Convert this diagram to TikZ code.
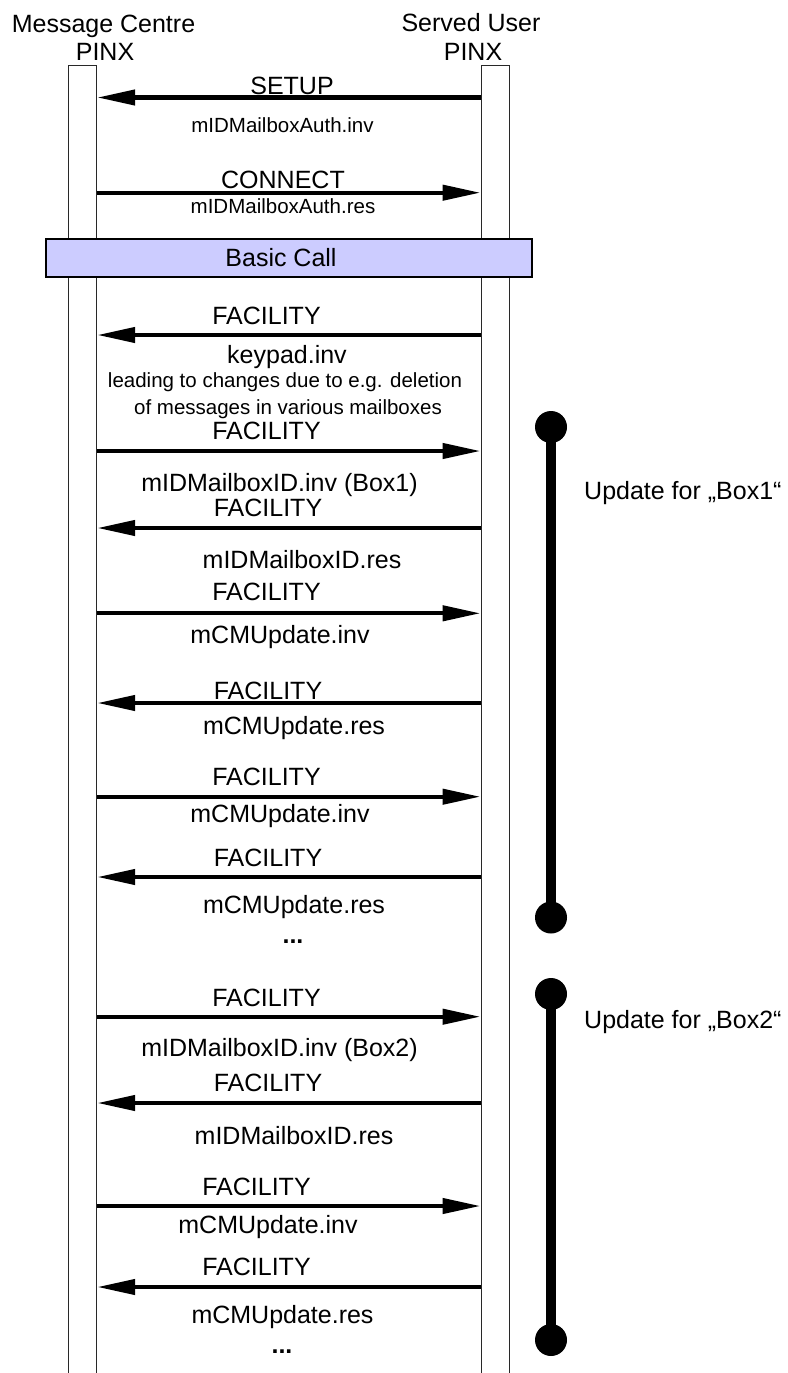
\documentclass[tikz,border=0pt]{standalone}
\usepackage{fontspec}
\setmainfont{Liberation Sans}
\usetikzlibrary{arrows.meta}
\definecolor{boxfill}{RGB}{204,204,255}
\definecolor{lineclr}{RGB}{40,40,40}
\begin{document}
\begin{tikzpicture}[x=1pt,y=-1pt,
  big/.style={font=\fontsize{25}{28}\selectfont, inner sep=0pt, anchor=base},
  small/.style={font=\fontsize{20.5}{24}\selectfont, inner sep=0pt, anchor=base},
  lifeline/.style={draw=lineclr, line width=1pt, rectangle, minimum width=28.4pt, minimum height=1335pt, inner sep=0pt, anchor=north},
  msg/.style={line width=4.3pt, -{Triangle[length=38pt,width=15pt]}},
  bar/.style={line width=9.3pt},
  dot/.style={circle, fill, inner sep=0pt, minimum size=32pt}]
\useasboundingbox (0,0) rectangle (787,1373);

% lifelines
\node[lifeline] (mc) at (82.5,65) {};
\node[lifeline] (su) at (495.25,65) {};

% headers
\node[big] (h1a) at (103.5,32) {Message Centre};
\node[big] (h1b) at (105,60) {PINX};
\node[big] (h2a) at (471,31) {Served User};
\node[big] (h2b) at (473,60) {PINX};

% basic call box
\node[draw, fill=boxfill, line width=1.1pt, minimum width=486pt, minimum height=38pt, inner sep=0pt] (bc) at (289,258) {};
\node[big] (bct) at (281,266.5) {Basic Call};

% leftward messages
\foreach \y [count=\i] in {97.5,335,528,703,877,1103,1287} {
  \coordinate (ls\i) at (su.west |- 0,\y);
  \coordinate (le\i) at (mc.east |- 0,\y);
  \draw[msg] (ls\i) -- (le\i);
}
% rightward messages
\foreach \y [count=\i] in {192.7,451,613.3,796.7,1016.7,1206} {
  \coordinate (rs\i) at (mc.east |- 0,\y);
  \coordinate (re\i) at (su.west |- 0,\y);
  \draw[msg] (rs\i) -- (re\i);
}

% labels
\node[big] (t1) at (292,94.5) {SETUP};
\node[small] (t2) at (282.5,132) {mIDMailboxAuth.inv};
\node[big] (t3) at (283,188) {CONNECT};
\node[small] (t4) at (283,213) {mIDMailboxAuth.res};
\node[big] (t5) at (266.5,324) {FACILITY};
\node[big] (t6) at (287,363) {keypad.inv};
\node[small] (t7) at (285,387.7) {leading to changes due to e.g. deletion};
\node[small] (t8) at (288,414) {of messages in various mailboxes};
\node[big] (t9) at (266.5,439) {FACILITY};
\node[big] (t10) at (279.5,491) {mIDMailboxID.inv (Box1)};
\node[big] (t11) at (268,516.7) {FACILITY};
\node[big] (t12) at (302,568) {mIDMailboxID.res};
\node[big] (t13) at (266.5,600) {FACILITY};
\node[big] (t14) at (280,643) {mCMUpdate.inv};
\node[big] (t15) at (268,699) {FACILITY};
\node[big] (t16) at (294,734) {mCMUpdate.res};
\node[big] (t17) at (266.5,785) {FACILITY};
\node[big] (t18) at (280,822) {mCMUpdate.inv};
\node[big] (t19) at (268,866.7) {FACILITY};
\node[big] (t20) at (294,913) {mCMUpdate.res};
\node[big] (t21) at (293,943) {\textbf{...}};
\node[big] (t22) at (266.5,1006) {FACILITY};
\node[big] (t23) at (279.5,1056.7) {mIDMailboxID.inv (Box2)};
\node[big] (t24) at (268,1091.7) {FACILITY};
\node[big] (t25) at (294,1144) {mIDMailboxID.res};
\node[big] (t26) at (256.5,1195.7) {FACILITY};
\node[big] (t27) at (268,1233) {mCMUpdate.inv};
\node[big] (t28) at (256.5,1275.7) {FACILITY};
\node[big] (t29) at (282.5,1323) {mCMUpdate.res};
\node[big] (t30) at (282,1353) {\textbf{...}};

% update bars
\node[dot] (b1t) at (551,427) {};
\node[dot] (b1b) at (551,917.5) {};
\draw[bar] (b1t.center) -- (b1b.center);
\node[big, anchor=base west] (u1) at (584,499) {Update for „Box1“};
\node[dot] (b2t) at (551,994) {};
\node[dot] (b2b) at (551,1340) {};
\draw[bar] (b2t.center) -- (b2b.center);
\node[big, anchor=base west] (u2) at (584,1028) {Update for „Box2“};
\end{tikzpicture}
\end{document}
